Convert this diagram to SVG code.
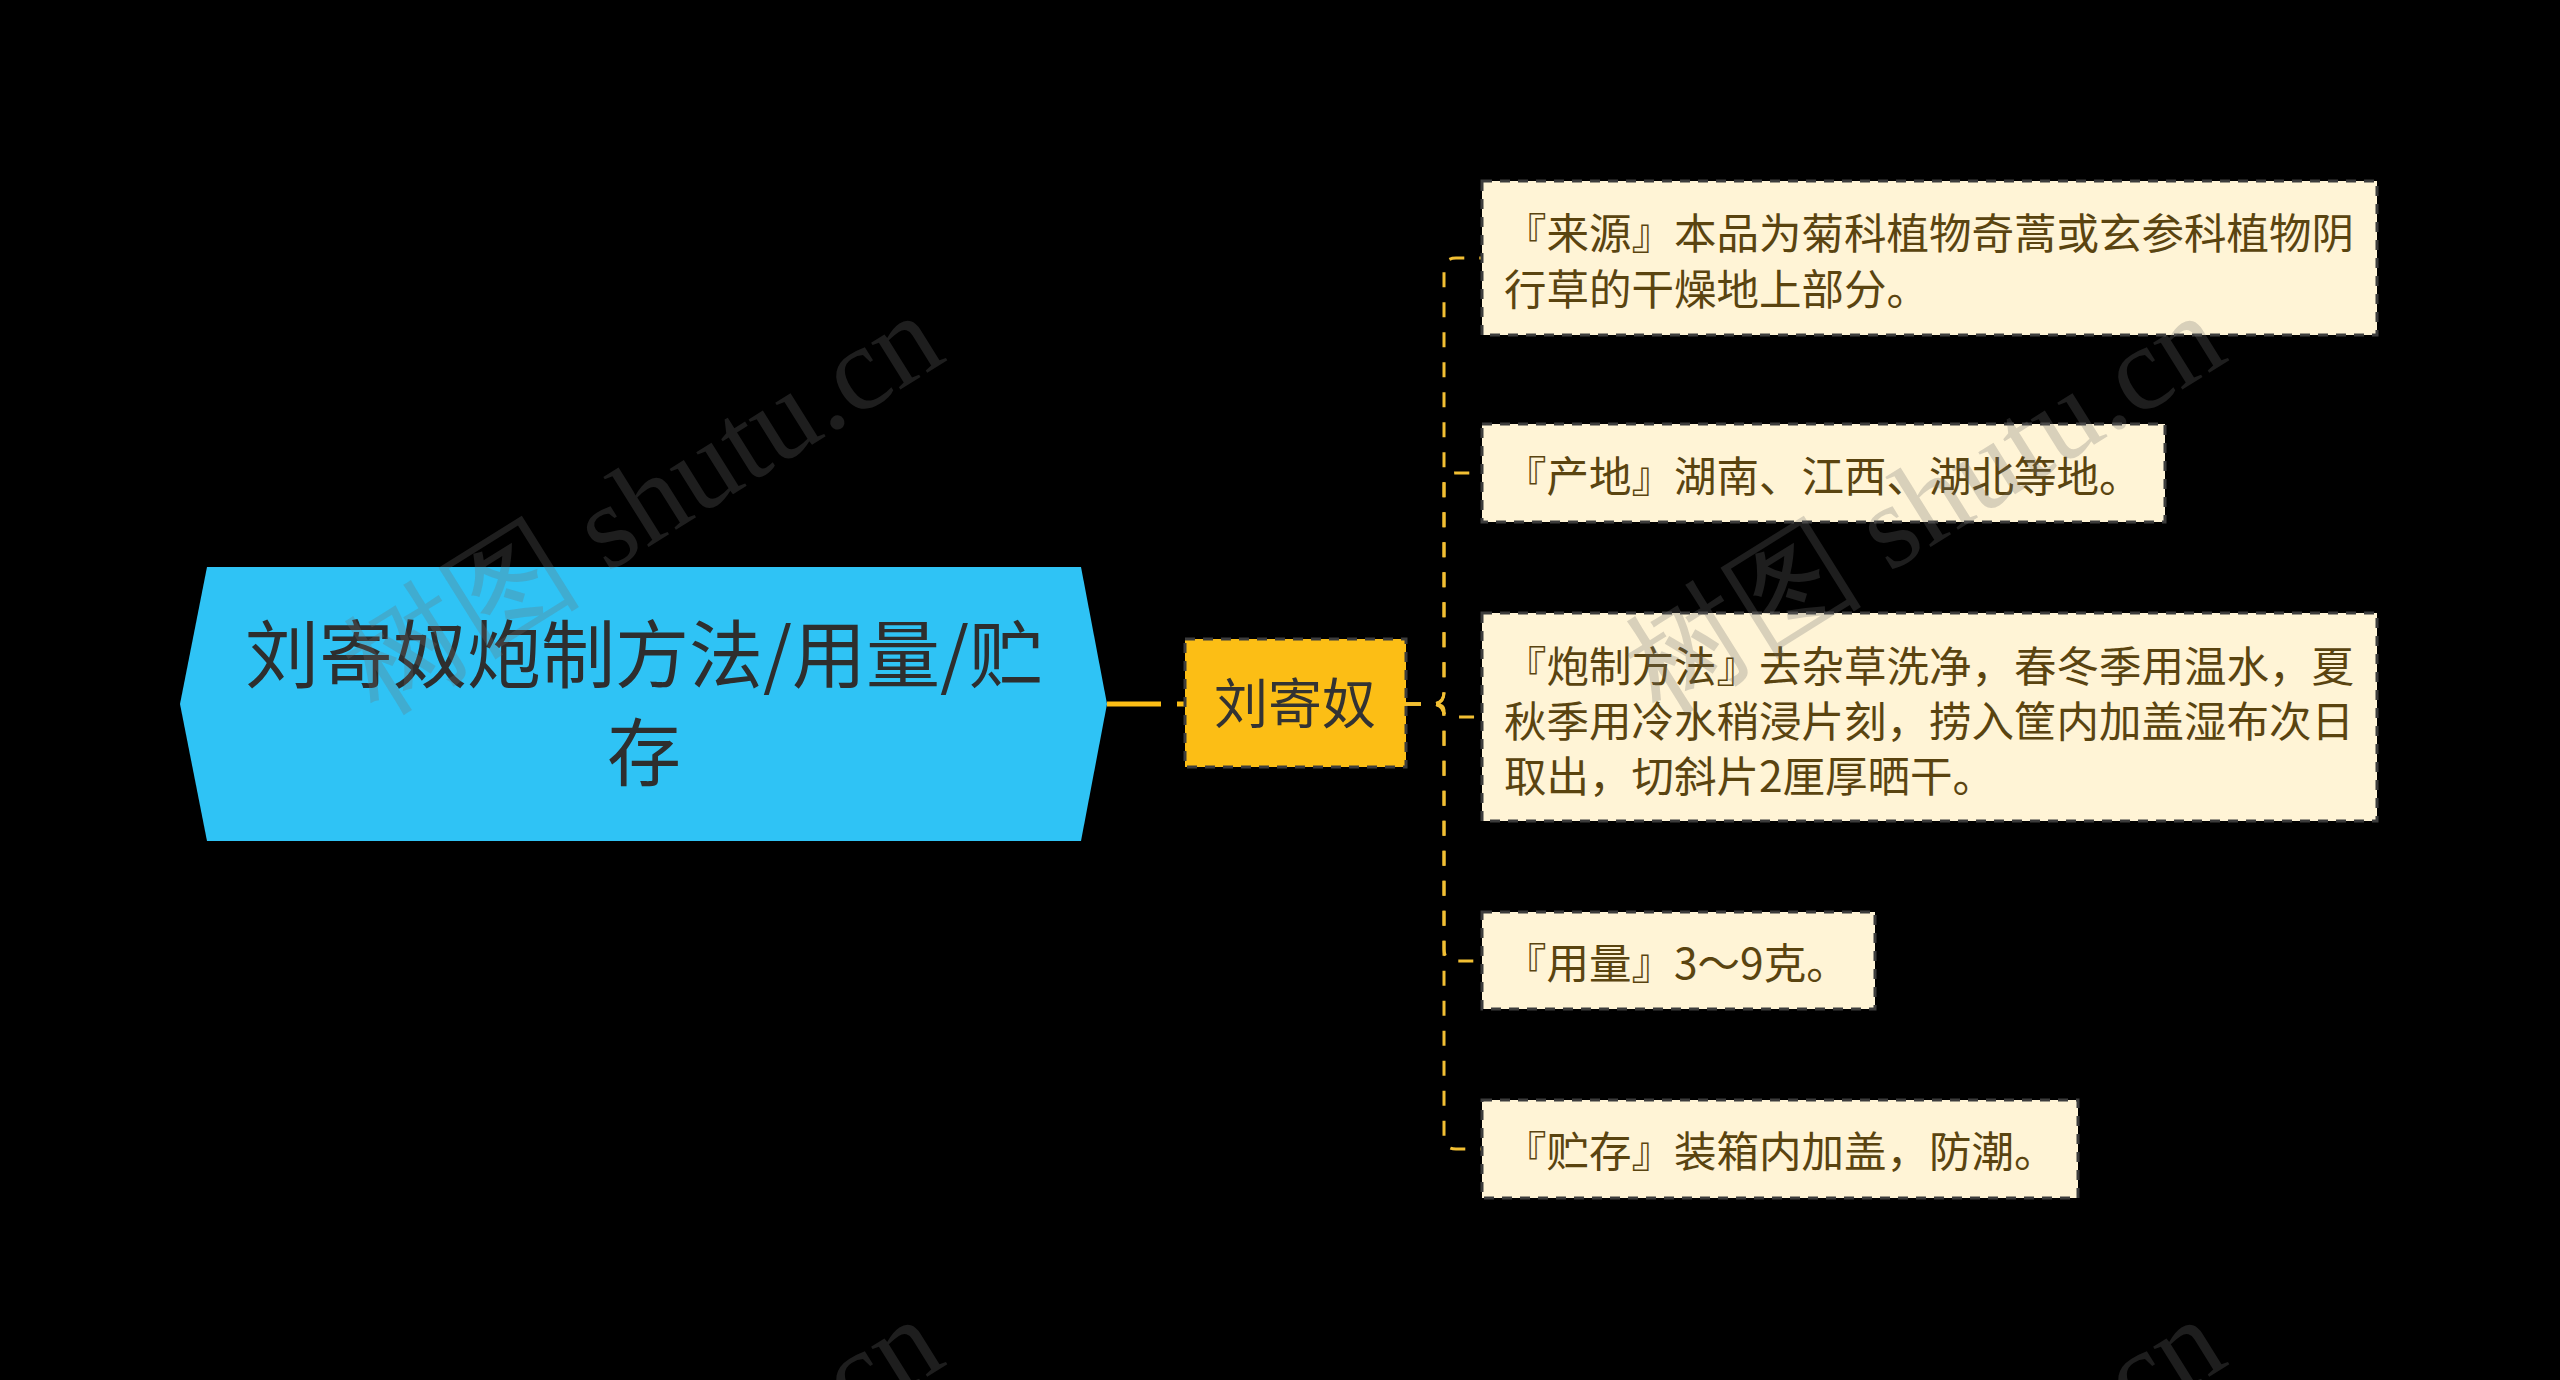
<svg xmlns="http://www.w3.org/2000/svg" width="2560" height="1380" viewBox="0 0 2560 1380">
<style>
.cjk{font-family:"Noto Sans CJK SC","Noto Sans",sans-serif;}
.root-t{font-size:74px;fill:#2e2e2e;text-anchor:middle;dominant-baseline:central;}
.child-t{font-size:54px;fill:#333333;text-anchor:middle;dominant-baseline:central;}
.leaf-t{font-size:42.5px;fill:#5a4410;dominant-baseline:central;}
.leaf{fill:#fff4d6;stroke:#3c3c3c;stroke-width:3;stroke-dasharray:10 8;}
.child{fill:#fcbe15;stroke:#3c3c3c;stroke-width:3;stroke-dasharray:10 8;}
.lk{fill:none;stroke:#f2bf33;stroke-width:3;stroke-dasharray:15 15;}
.wm{font-family:"Liberation Serif",serif;font-size:120px;fill:#707070;fill-opacity:0.27;}
</style>
<rect x="0" y="0" width="2560" height="1380" fill="#000000"/>
<g id="connectors">
<line x1="1107" y1="704" x2="1185" y2="704" stroke="#fcbe15" stroke-width="5" stroke-dasharray="54 16"/>
<path class="lk" d="M1406,704 H1432 Q1444,704 1444,692 V270 Q1444,258 1456,258 H1482"/>
<path class="lk" d="M1406,704 H1432 Q1444,704 1444,692 V485 Q1444,473 1456,473 H1482"/>
<path class="lk" d="M1406,704 H1432 Q1444,704 1444,710 V711 Q1444,717 1452,717 H1482"/>
<path class="lk" d="M1406,704 H1432 Q1444,704 1444,716 V949 Q1444,961 1456,961 H1482"/>
<path class="lk" d="M1406,704 H1432 Q1444,704 1444,716 V1137 Q1444,1149 1456,1149 H1482"/>
</g>
<g id="root">
<polygon points="180,704 207,567 1081,567 1107,704 1081,841 207,841" fill="#2fc3f5"/>
<text class="cjk root-t" x="644" y="649">刘寄奴炮制方法/用量/贮</text>
<text class="cjk root-t" x="644" y="747">存</text>
</g>
<g id="child">
<rect class="child" x="1185" y="639" width="221" height="128"/>
<text class="cjk child-t" x="1295" y="700">刘寄奴</text>
</g>
<g id="leaf1">
<rect class="leaf" x="1482" y="181" width="895" height="154"/>
<text class="cjk leaf-t" x="1504" y="230">『来源』本品为菊科植物奇蒿或玄参科植物阴</text>
<text class="cjk leaf-t" x="1504" y="286">行草的干燥地上部分。</text>
</g>
<g id="leaf2">
<rect class="leaf" x="1482" y="424" width="683" height="98"/>
<text class="cjk leaf-t" x="1504" y="473">『产地』湖南、江西、湖北等地。</text>
</g>
<g id="leaf3">
<rect class="leaf" x="1482" y="613" width="895" height="208"/>
<text class="cjk leaf-t" x="1504" y="663">『炮制方法』去杂草洗净，春冬季用温水，夏</text>
<text class="cjk leaf-t" x="1504" y="718">秋季用冷水稍浸片刻，捞入筐内加盖湿布次日</text>
<text class="cjk leaf-t" x="1504" y="773">取出，切斜片2厘厚晒干。</text>
</g>
<g id="leaf4">
<rect class="leaf" x="1482" y="912" width="393" height="97"/>
<text class="cjk leaf-t" x="1504" y="960">『用量』3～9克。</text>
</g>
<g id="leaf5">
<rect class="leaf" x="1482" y="1100" width="596" height="98"/>
<text class="cjk leaf-t" x="1504" y="1148">『贮存』装箱内加盖，防潮。</text>
</g>
<g id="watermarks">
<text class="wm" x="378" y="716" transform="rotate(-32 378 716)">树图 shutu.cn</text>
<text class="wm" x="1660" y="716" transform="rotate(-32 1660 716)">树图 shutu.cn</text>
<text class="wm" x="378" y="1720" transform="rotate(-32 378 1720)">树图 shutu.cn</text>
<text class="wm" x="1660" y="1720" transform="rotate(-32 1660 1720)">树图 shutu.cn</text>
</g>
</svg>
